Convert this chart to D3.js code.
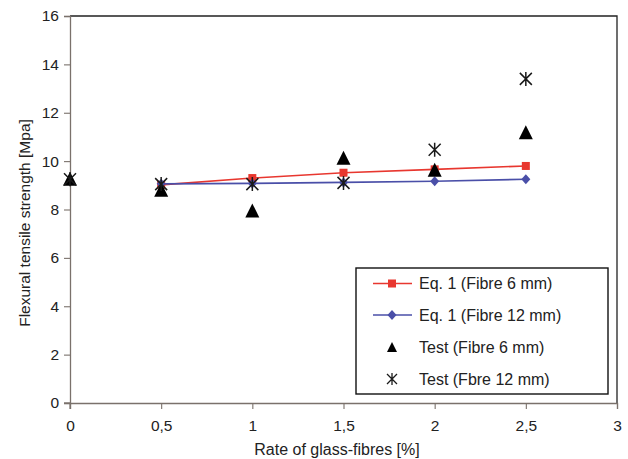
<!DOCTYPE html>
<html><head><meta charset="utf-8">
<script src="https://cdn.jsdelivr.net/npm/d3@7/dist/d3.min.js"></script>
<style>body{margin:0;background:#fff}svg{display:block}text{font-family:"Liberation Sans",Arial,sans-serif;fill:#222}</style>
</head><body><svg id="c" width="628" height="459"></svg>
<script>
const xTicks = [0, 0.5, 1, 1.5, 2, 2.5, 3];
const xTickLabels = ["0", "0,5", "1", "1,5", "2", "2,5", "3"];
const yTicks = [0, 2, 4, 6, 8, 10, 12, 14, 16];
const eqX = [0.5, 1, 1.5, 2, 2.5];
const eq6 = [9.02, 9.3, 9.52, 9.66, 9.8];
const eq12 = [9.06, 9.08, 9.12, 9.17, 9.25];
const testX = [0, 0.5, 1, 1.5, 2, 2.5];
const test6 = [9.23, 8.78, 7.92, 10.1, 9.6, 11.15];
const test12 = [9.25, 9.05, 9.05, 9.1, 10.47, 13.4];
const legendLabels = ["Eq. 1 (Fibre 6 mm)", "Eq. 1 (Fibre 12 mm)", "Test (Fibre 6 mm)", "Test (Fbre 12 mm)"];

const svg = d3.select("#c");
const L = 70, R = 617, T = 16, B = 403;
const x = d3.scaleLinear().domain([0, 3]).range([L, R]);
const y = d3.scaleLinear().domain([0, 16]).range([B, T]);
const red = "#e8372f", blue = "#4a4fa8";
const FS = 15.5;

// frame top/right
svg.append("path").attr("d", `M${L},${T}H${R}V${B}`).attr("fill", "none").attr("stroke", "#222").attr("stroke-width", 1.3);

const axisCol = "#7a716b";
const xa = svg.append("g").attr("transform", `translate(0,${B})`)
  .call(d3.axisBottom(x).tickValues(xTicks).tickFormat((d, i) => xTickLabels[i]).tickSizeOuter(0).tickSize(6).tickPadding(11));
const ya = svg.append("g").attr("transform", `translate(${L},0)`)
  .call(d3.axisLeft(y).tickValues(yTicks).tickSizeOuter(0).tickSize(6).tickPadding(5));
[xa, ya].forEach(a => {
  a.select(".domain").attr("stroke", axisCol).attr("stroke-width", 1.3);
  a.selectAll(".tick line").attr("stroke", axisCol).attr("stroke-width", 1.1);
  a.selectAll(".tick text").attr("font-size", FS).attr("font-family", "Liberation Sans, Arial, sans-serif").attr("fill", "#222");
});
// extend x axis left a bit
svg.append("line").attr("x1", L - 6).attr("x2", L).attr("y1", B).attr("y2", B).attr("stroke", axisCol).attr("stroke-width", 1.3);
svg.append("line").attr("x1", L).attr("x2", L).attr("y1", B).attr("y2", B + 6).attr("stroke", axisCol).attr("stroke-width", 1.1);

svg.append("text").attr("x", 337).attr("y", 455).attr("text-anchor", "middle").attr("font-size", 16).text("Rate of glass-fibres [%]");
svg.append("text").attr("transform", `translate(30,223) rotate(-90)`).attr("text-anchor", "middle").attr("font-size", FS).text("Flexural tensile strength [Mpa]");

const line = d3.line().x(d => x(d[0])).y(d => y(d[1]));
function square(g, cx, cy) { g.append("rect").attr("x", cx - 4).attr("y", cy - 4).attr("width", 8).attr("height", 8).attr("fill", red); }
function diamond(g, cx, cy) { g.append("path").attr("d", `M${cx},${cy - 5}L${cx + 4.5},${cy}L${cx},${cy + 5}L${cx - 4.5},${cy}Z`).attr("fill", blue); }
function tri(g, cx, cy) { g.append("path").attr("d", `M${cx},${cy - 8}L${cx + 7},${cy + 6}L${cx - 7},${cy + 6}Z`).attr("fill", "#000"); }
function star(g, cx, cy) {
  const s = 7;
  g.append("path").attr("d", `M${cx},${cy - s}V${cy + s}M${cx - 6},${cy - 6}L${cx + 6},${cy + 6}M${cx + 6},${cy - 6}L${cx - 6},${cy + 6}`)
    .attr("stroke", "#1a1a1a").attr("stroke-width", 1.5).attr("fill", "none");
}

const g = svg.append("g");
g.append("path").attr("d", line(eqX.map((v, i) => [v, eq6[i]]))).attr("fill", "none").attr("stroke", red).attr("stroke-width", 1.6);
g.append("path").attr("d", line(eqX.map((v, i) => [v, eq12[i]]))).attr("fill", "none").attr("stroke", blue).attr("stroke-width", 1.6);
eqX.forEach((v, i) => square(g, x(v), y(eq6[i])));
eqX.forEach((v, i) => diamond(g, x(v), y(eq12[i])));
testX.forEach((v, i) => tri(g, x(v), y(test6[i])));
testX.forEach((v, i) => star(g, x(v), y(test12[i])));

// legend
const lg = svg.append("g");
lg.append("rect").attr("x", 356).attr("y", 268).attr("width", 252).attr("height", 126).attr("fill", "#fff").attr("stroke", "#111").attr("stroke-width", 1.4);
const ly = [283.5, 315, 347, 379];
lg.append("line").attr("x1", 373).attr("x2", 412).attr("y1", ly[0]).attr("y2", ly[0]).attr("stroke", red).attr("stroke-width", 1.6);
square(lg, 392, ly[0]);
lg.append("line").attr("x1", 373).attr("x2", 412).attr("y1", ly[1]).attr("y2", ly[1]).attr("stroke", blue).attr("stroke-width", 1.6);
diamond(lg, 392, ly[1]);
lg.append("path").attr("d", `M392,${ly[2] - 5}L397,${ly[2] + 5}L387,${ly[2] + 5}Z`).attr("fill", "#000");
lg.append("path").attr("d", `M392,${ly[3] - 6}V${ly[3] + 6}M387,${ly[3] - 5}L397,${ly[3] + 5}M397,${ly[3] - 5}L387,${ly[3] + 5}`).attr("stroke", "#1a1a1a").attr("stroke-width", 1.3);
legendLabels.forEach((t, i) => lg.append("text").attr("x", 419).attr("y", ly[i] + 5.5).attr("font-size", 16).text(t));
</script></body></html>
